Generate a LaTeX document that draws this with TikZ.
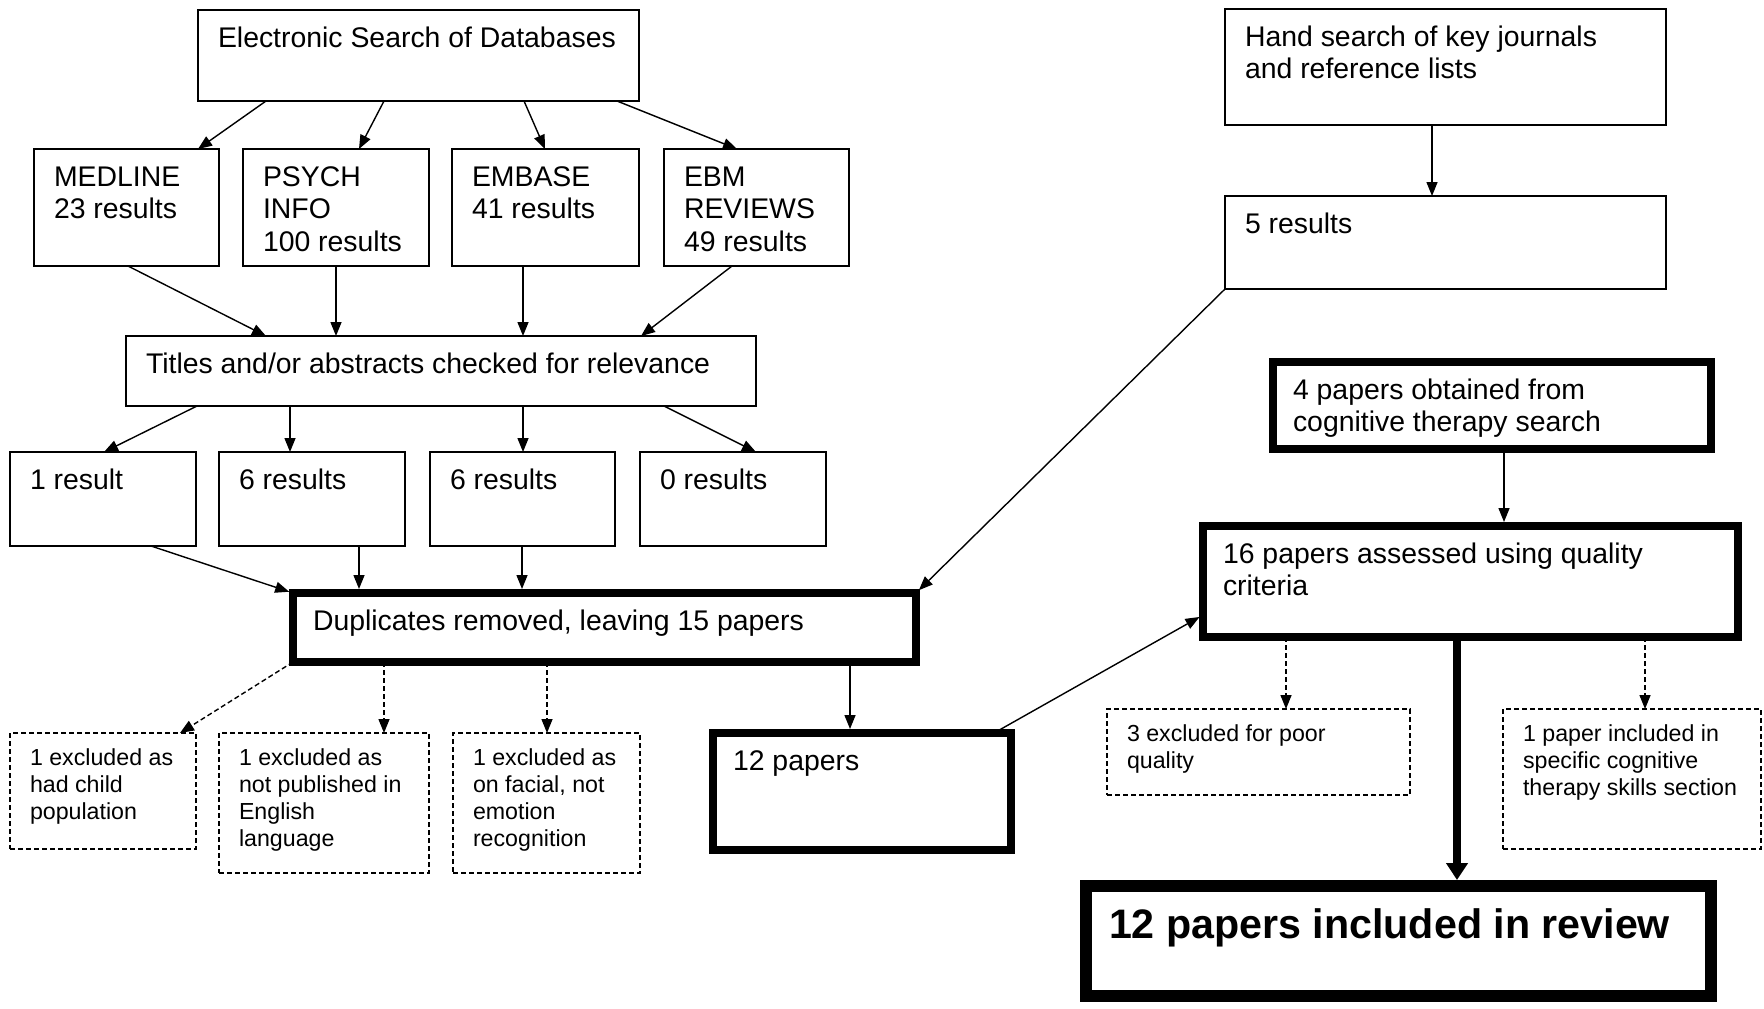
\documentclass[tikz,border=0pt]{standalone}
\usepackage{fontspec}
\setmainfont{Liberation Sans}
\usepackage{tikz}
\usetikzlibrary{arrows.meta}

% text block of a box: width and height in px, text at top left
\newcommand{\tb}[3]{\parbox[c][\dimexpr#2pt/2\relax][t]{\dimexpr#1pt/2\relax}{\leftskip=\padl\rightskip=0pt plus 1fil\parfillskip=0pt plus 1fil\rule{0pt}{\padt}#3}}

\tikzset{
  box/.style={draw, line width=1pt, inner sep=0pt, outer sep=0pt, anchor=north west,
    font=\fontsize{14.2}{16.3}\selectfont, /utils/exec={\def\padl{10pt}\def\padt{18.5pt}}},
  thickbox/.style={box, line width=4pt},
  exbox/.style={box, line width=0.7pt, dash pattern=on 2.5pt off 1.5pt,
    font=\fontsize{11.6}{13.5}\selectfont, /utils/exec={\def\padl{10pt}\def\padt{16pt}}},
  finalbox/.style={box, line width=6pt, font=\fontsize{20.6}{23.7}\selectfont\bfseries,
    /utils/exec={\def\padl{11.5pt}\def\padt{26pt}}},
  arr/.style={line width=0.7pt, -{Triangle[length=7pt,width=5.5pt]}},
  darr/.style={arr, dash pattern=on 2.5pt off 1.5pt},
  bigarr/.style={line width=4pt, -{Triangle[length=8.5pt,width=10.5pt]}}
}

\begin{document}
\begin{tikzpicture}[x=0.5pt, y=-0.5pt]
	\useasboundingbox (0,0) rectangle (1764,1008);
	
	% 1. electronic search and the four databases
	\node[box] (elec) at (198,10)  {\tb{441}{91}{Electronic Search of Databases}};
	\node[box] (med)  at (34,149)  {\tb{185}{117}{MEDLINE\\23 results}};
	\node[box] (psy)  at (243,149) {\tb{186}{117}{PSYCH\\INFO\\100 results}};
	\node[box] (emb)  at (452,149) {\tb{187}{117}{EMBASE\\41 results}};
	\node[box] (ebm)  at (664,149) {\tb{185}{117}{EBM\\REVIEWS\\49 results}};
	
	% 2. relevance check and its results
	\node[box] (titles) at (126,336) {\tb{630}{70}{Titles and/or abstracts checked for relevance}};
	\node[box] (res1) at (10,452)  {\tb{186}{94}{1 result}};
	\node[box] (res2) at (219,452) {\tb{186}{94}{6 results}};
	\node[box] (res3) at (430,452) {\tb{185}{94}{6 results}};
	\node[box] (res4) at (640,452) {\tb{186}{94}{0 results}};
	
	% 3. duplicates and exclusions
	\node[thickbox] (dup) at (293,593) {\tb{623}{69}{Duplicates removed, leaving 15 papers}};
	\node[exbox] (ex1) at (10,733)  {\tb{186}{116}{1 excluded as\\had child\\population}};
	\node[exbox] (ex2) at (219,733) {\tb{210}{140}{1 excluded as\\not published in\\English\\language}};
	\node[exbox] (ex3) at (453,733) {\tb{187}{140}{1 excluded as\\on facial, not\\emotion\\recognition}};
	\node[thickbox] (p12) at (713,733) {\tb{298}{117}{12 papers}};
	
	% 4. hand search (right column)
	\node[box] (hand) at (1225,9)   {\tb{441}{116}{Hand search of key journals\\and reference lists}};
	\node[box] (res5) at (1225,196) {\tb{441}{93}{5 results}};
	\node[thickbox] (p4)  at (1273,362) {\tb{438}{87}{4 papers obtained from\\cognitive therapy search}};
	\node[thickbox] (p16) at (1203,526) {\tb{535}{111}{16 papers assessed using quality\\criteria}};
	\node[exbox] (ex4) at (1107,709) {\tb{303}{86}{3 excluded for poor\\quality}};
	\node[exbox] (ex5) at (1503,709) {\tb{258}{140}{1 paper included in\\specific cognitive\\therapy skills section}};
	\node[finalbox] (final) at (1086,886) {\tb{625}{110}{12 papers included in review}};
	
	% 5. connectors
	\draw[arr] (266,0 |- elec.south) -- (198,0 |- med.north);
	\draw[arr] (384,0 |- elec.south) -- (359,0 |- psy.north);
	\draw[arr] (524,0 |- elec.south) -- (545,0 |- emb.north);
	\draw[arr] (617,0 |- elec.south) -- (737,0 |- ebm.north);
	
	\draw[arr] (128,0 |- med.south) -- (266,0 |- titles.north);
	\draw[arr] (336,0 |- psy.south) -- (336,0 |- titles.north);
	\draw[arr] (523,0 |- emb.south) -- (523,0 |- titles.north);
	\draw[arr] (732,0 |- ebm.south) -- (641,0 |- titles.north);
	
	\draw[arr] (197,0 |- titles.south) -- (104,0 |- res1.north);
	\draw[arr] (290,0 |- titles.south) -- (290,0 |- res2.north);
	\draw[arr] (523,0 |- titles.south) -- (523,0 |- res3.north);
	\draw[arr] (664,0 |- titles.south) -- (756,0 |- res4.north);
	
	\draw[arr, shorten >=2pt] (151,0 |- res1.south) -- (dup.north west);
	\draw[arr, shorten >=2pt] (359,0 |- res2.south) -- (359,0 |- dup.north);
	\draw[arr, shorten >=2pt] (522,0 |- res3.south) -- (522,0 |- dup.north);
	\draw[arr, shorten >=2pt] (res5.south west) -- (dup.north east);
	
	\draw[darr] (dup.south west) -- (180,0 |- ex1.north);
	\draw[darr] (384,0 |- dup.south) -- (384,0 |- ex2.north);
	\draw[darr] (547,0 |- dup.south) -- (547,0 |- ex3.north);
	\draw[arr, shorten >=2pt] (850,0 |- dup.south) -- (850,0 |- p12.north);
	\draw[arr, shorten >=2pt] (994,0 |- p12.north) -- (p16.west |- 0,615);
	
	\draw[arr] (1432,0 |- hand.south) -- (1432,0 |- res5.north);
	\draw[arr, shorten >=2pt] (1504,0 |- p4.south) -- (1504,0 |- p16.north);
	\draw[darr] (1286,0 |- p16.south) -- (1286,0 |- ex4.north);
	\draw[darr] (1645,0 |- p16.south) -- (1645,0 |- ex5.north);
	\draw[bigarr, shorten >=3pt] (1457,0 |- p16.south) -- (1457,0 |- final.north);
	
\end{tikzpicture}
\end{document}
